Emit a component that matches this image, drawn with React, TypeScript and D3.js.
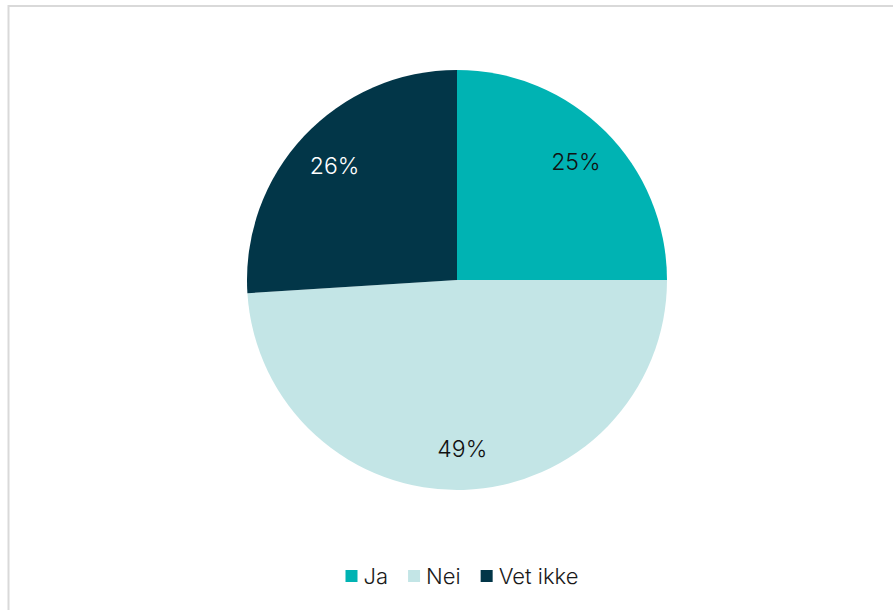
import React, { useEffect, useRef } from 'react';
import * as d3 from 'd3';

// chart data
const categories: string[] = ['Ja', 'Nei', 'Vet ikke'];
const values: number[] = [25, 49, 26];
const colors: string[] = ['#00b3b3', '#c3e5e6', '#023648'];
const labelColors: string[] = ['#111111', '#111111', '#ffffff'];

const App: React.FC = () => {
  const containerRef = useRef<HTMLDivElement | null>(null);

  useEffect(() => {
    if (!containerRef.current) return;
    containerRef.current.innerHTML = '';

    const width = 893;
    const height = 610;
    const cx = 457;
    const cy = 280;
    const radius = 210;
    const font = 'Inter, "Liberation Sans", sans-serif';

    const svg = d3
      .select(containerRef.current)
      .append('svg')
      .attr('width', width)
      .attr('height', height)
      .style('display', 'block');

    svg.append('rect').attr('width', width).attr('height', height).attr('fill', '#ffffff');

    // chart frame (runs off the right/bottom edge)
    svg
      .append('rect')
      .attr('x', 8.5)
      .attr('y', 6)
      .attr('width', 1000)
      .attr('height', 1000)
      .attr('fill', 'none')
      .attr('stroke', '#d9d9d9')
      .attr('stroke-width', 2);

    const data = categories.map((c, i) => ({ name: c, value: values[i], i }));
    type D = (typeof data)[number];

    const pie = d3.pie<D>().value((d) => d.value).sort(null);
    const arcs = pie(data);
    const arc = d3.arc<d3.PieArcDatum<D>>().innerRadius(0).outerRadius(radius);
    const labelArc = d3.arc<d3.PieArcDatum<D>>().innerRadius(radius * 0.8).outerRadius(radius * 0.8);

    const g = svg.append('g').attr('transform', `translate(${cx}, ${cy})`);

    g.selectAll('path')
      .data(arcs)
      .join('path')
      .attr('d', arc)
      .attr('fill', (d) => colors[d.data.i]);

    g.selectAll('text.label')
      .data(arcs)
      .join('text')
      .attr('class', 'label')
      .attr('transform', (d) => {
        const [x, y] = labelArc.centroid(d);
        return `translate(${x}, ${y})`;
      })
      .attr('text-anchor', 'middle')
      .attr('dy', '0.4em')
      .attr('font-family', font)
      .attr('font-weight', 300)
      .attr('font-size', 23)
      .attr('fill', (d) => labelColors[d.data.i])
      .text((d) => `${d.data.value}%`);

    // legend, centered below the pie
    const legend = svg.append('g');
    const sq = 12;
    const textGap = 6;
    const itemGap = 20;
    let x = 0;
    categories.forEach((c, i) => {
      const item = legend.append('g').attr('transform', `translate(${x}, 0)`);
      item.append('rect').attr('x', 0).attr('y', -sq / 2).attr('width', sq).attr('height', sq).attr('fill', colors[i]);
      const t = item
        .append('text')
        .attr('x', sq + textGap)
        .attr('dy', '0.36em')
        .attr('font-family', font)
        .attr('font-weight', 300)
        .attr('font-size', 22)
        .attr('fill', '#1a1a1a')
        .text(c);
      const w = (t.node() as SVGTextElement).getComputedTextLength();
      x += sq + textGap + w + itemGap;
    });
    const total = x - itemGap;
    legend.attr('transform', `translate(${462 - total / 2}, 576)`);
  }, []);

  return <div ref={containerRef} style={{ position: 'fixed', left: 0, top: 0 }} />;
};

export default App;
